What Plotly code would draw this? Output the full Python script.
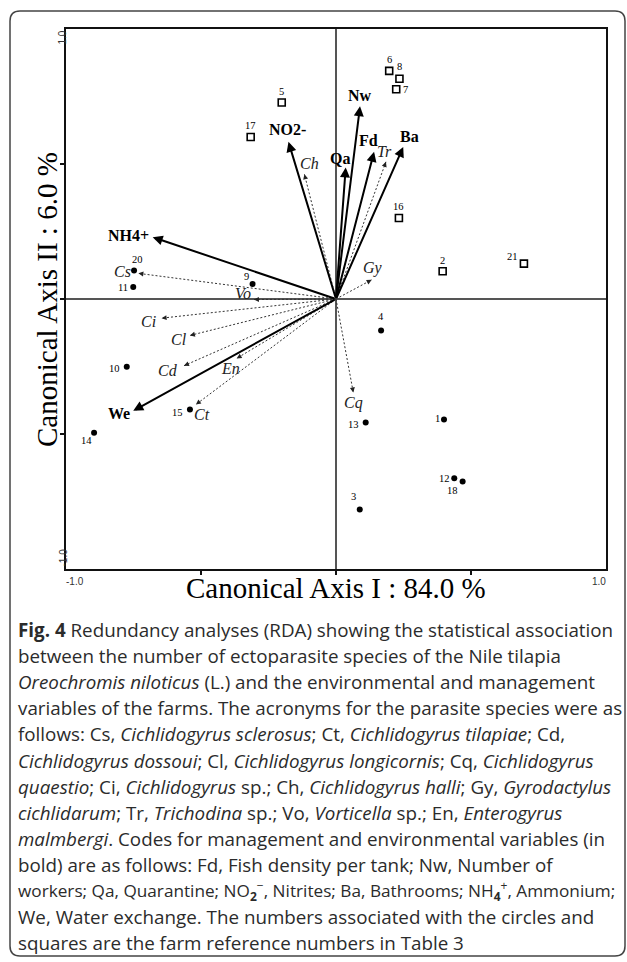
import math
import plotly.graph_objects as go

# ---------------- data ----------------
site_ids = ["1", "2", "3", "4", "5", "6", "7", "8", "9", "10", "11", "12", "13",
            "14", "15", "16", "17", "18", "20", "21"]
site_x = [0.400, 0.395, 0.088, 0.167, -0.201, 0.197, 0.223, 0.235, -0.309, -0.775,
          -0.751, 0.438, 0.110, -0.896, -0.541, 0.233, -0.316, 0.469, -0.748, 0.696]
site_y = [-0.446, 0.103, -0.780, -0.117, 0.728, 0.845, 0.777, 0.816, 0.056, -0.251,
          0.044, -0.664, -0.457, -0.495, -0.409, 0.300, 0.600, -0.676, 0.106, 0.131]
site_group = ["circle", "square", "circle", "circle", "square", "square", "square",
              "square", "circle", "circle", "circle", "circle", "circle", "circle",
              "circle", "square", "square", "circle", "circle", "square"]

env_names = ["NO2-", "NH4+", "Nw", "Qa", "Fd", "Ba", "We"]
env_x = [-0.176, -0.679, 0.089, 0.036, 0.141, 0.249, -0.751]
env_y = [0.582, 0.229, 0.714, 0.487, 0.545, 0.563, -0.414]

sp_names = ["Ch", "Tr", "Gy", "Cs", "Vo", "Ci", "Cl", "Cd", "En", "Ct", "Cq"]
sp_x = [-0.117, 0.185, 0.132, -0.732, -0.304, -0.646, -0.541, -0.563, -0.368, -0.519, 0.064]
sp_y = [0.462, 0.508, 0.071, 0.095, -0.002, -0.071, -0.135, -0.247, -0.220, -0.391, -0.346]

axis_range = [-1.0, 1.0]
tick_vals = [-0.5, 0.0, 0.5]
x_title = "Canonical Axis I : 84.0 %"
y_title = "Canonical Axis II : 6.0 %"

caption_lines = [
    "<b>Fig. 4</b> Redundancy analyses (RDA) showing the statistical association",
    "between the number of ectoparasite species of the Nile tilapia",
    "<i>Oreochromis niloticus</i> (L.) and the environmental and management",
    "variables of the farms. The acronyms for the parasite species were as",
    "follows: Cs, <i>Cichlidogyrus sclerosus</i>; Ct, <i>Cichlidogyrus tilapiae</i>; Cd,",
    "<i>Cichlidogyrus dossoui</i>; Cl, <i>Cichlidogyrus longicornis</i>; Cq, <i>Cichlidogyrus</i>",
    "<i>quaestio</i>; Ci, <i>Cichlidogyrus</i> sp.; Ch, <i>Cichlidogyrus halli</i>; Gy, <i>Gyrodactylus</i>",
    "<i>cichlidarum</i>; Tr, <i>Trichodina</i> sp.; Vo, <i>Vorticella</i> sp.; En, <i>Enterogyrus</i>",
    "<i>malmbergi</i>. Codes for management and environmental variables (in",
    "bold) are as follows: Fd, Fish density per tank; Nw, Number of",
    "workers; Qa, Quarantine; NO<sub><b>2</b></sub><sup>\u2212</sup>, Nitrites; Ba, Bathrooms; NH<sub><b>4</b></sub><sup>+</sup>, Ammonium;",
    "We, Water exchange. The numbers associated with the circles and",
    "squares are the farm reference numbers in Table 3",
]

# ---------------- styles / layout (pixels) ----------------
W, H = 627, 962
PL, PR, PT, PB = 66, 606, 29, 569
SERIF = "Liberation Serif"
SANS = "Liberation Sans"
CAP_FONT = "Open Sans"
CAP_SIZE = 18.8
CAP_SIZE_TIGHT = 17.2   # line with sub/superscripts (stacked in the original)
CAP_TOP, CAP_STEP = 630, 26.1

site_label_off = {"1": (-7, 1), "2": (0, 11), "3": (-6, 13), "4": (0, 14), "5": (0, 11),
                  "6": (0, 11), "7": (9, 0), "8": (0, 12), "9": (-6, 7), "10": (-12, -2),
                  "11": (-10, 0), "12": (-10, 0), "13": (-12, -2), "14": (-8, -8),
                  "15": (-12, -3), "16": (0, 11), "17": (0, 11), "18": (-10, -9),
                  "20": (3, 11), "21": (-11, 7)}
env_label_off = {"NO2-": (-1, 12), "NH4+": (-24, 2), "Nw": (0, 11), "Qa": (-6, 9),
                 "Fd": (-6, 11), "Ba": (6, 10), "We": (-14, -3)}
sp_label_off = {"Ch": (5, 11), "Tr": (-1, 10), "Gy": (1, 12), "Cs": (-16, 2), "Vo": (-11, 6),
                "Ci": (-13, -3), "Cl": (-11, -4), "Cd": (-16, -5), "En": (-6, -10),
                "Ct": (6, -10), "Cq": (0, -11)}

px_per_x = (PR - PL) / (axis_range[1] - axis_range[0])
px_per_y = (PB - PT) / (axis_range[1] - axis_range[0])

fig = go.Figure()

# dotted species vectors
lx, ly = [], []
for x, y in zip(sp_x, sp_y):
    lx += [0, x, None]
    ly += [0, y, None]
fig.add_trace(go.Scatter(x=lx, y=ly, mode="lines",
                         line=dict(color="#333333", width=1, dash="2px,2px"),
                         hoverinfo="skip"))

# sites
sq_x = [x for x, g in zip(site_x, site_group) if g == "square"]
sq_y = [y for y, g in zip(site_y, site_group) if g == "square"]
ci_x = [x for x, g in zip(site_x, site_group) if g == "circle"]
ci_y = [y for y, g in zip(site_y, site_group) if g == "circle"]
fig.add_trace(go.Scatter(x=sq_x, y=sq_y, mode="markers",
                         marker=dict(symbol="square-open", size=7, color="black",
                                     line=dict(width=1.6, color="black"))))
fig.add_trace(go.Scatter(x=ci_x, y=ci_y, mode="markers",
                         marker=dict(symbol="circle", size=6, color="black")))

ann = []
# solid environmental arrows
for n, x, y in zip(env_names, env_x, env_y):
    ann.append(dict(x=x, y=y, xref="x", yref="y", ax=0, ay=0, axref="x", ayref="y",
                    showarrow=True, arrowhead=2, arrowsize=1, arrowwidth=2,
                    arrowcolor="black", text=""))
    dx, dy = env_label_off[n]
    ann.append(dict(x=x, y=y, xref="x", yref="y", text="<b>%s</b>" % n, showarrow=False,
                    xshift=dx, yshift=dy,
                    font=dict(family=SERIF, size=16, color="black")))

# dotted species arrow heads + labels
for n, x, y in zip(sp_names, sp_x, sp_y):
    vx, vy = x * px_per_x, y * px_per_y
    L = math.hypot(vx, vy)
    ux, uy = vx / L, vy / L
    ann.append(dict(x=x, y=y, xref="x", yref="y", ax=-ux * 6, ay=uy * 6,
                    showarrow=True, arrowhead=2, arrowsize=1, arrowwidth=1,
                    arrowcolor="#222222", text=""))
    dx, dy = sp_label_off[n]
    ann.append(dict(x=x, y=y, xref="x", yref="y", text="<i>%s</i>" % n, showarrow=False,
                    xshift=dx, yshift=dy,
                    font=dict(family=SERIF, size=16, color="#222222")))

# site labels
for s, x, y in zip(site_ids, site_x, site_y):
    dx, dy = site_label_off[s]
    ann.append(dict(x=x, y=y, xref="x", yref="y", text=s, showarrow=False,
                    xshift=dx, yshift=dy,
                    font=dict(family=SERIF, size=10.5, color="black")))

# axis end labels
tick_font = dict(family=SANS, size=10, color="#333333")
ann.append(dict(x=axis_range[0], y=0, xref="x", yref="paper", text="-1.0",
                showarrow=False, font=tick_font, xshift=9, yshift=H - PB - 5,
                yanchor="top"))
ann.append(dict(x=axis_range[1], y=0, xref="x", yref="paper", text="1.0",
                showarrow=False, font=tick_font, xshift=-7, yshift=H - PB - 5,
                yanchor="top"))
ann.append(dict(x=0, y=axis_range[1], xref="paper", yref="y", text="1.0", textangle=-90,
                showarrow=False, font=tick_font, xshift=55, yshift=-9))
ann.append(dict(x=0, y=axis_range[0], xref="paper", yref="y", text="-1.0", textangle=-90,
                showarrow=False, font=tick_font, xshift=55, yshift=11))

# axis titles
ann.append(dict(x=0.5 * (PL + PR) / W, y=1 - 588 / H, xref="paper", yref="paper",
                text=x_title, showarrow=False, xanchor="center", yanchor="middle",
                font=dict(family=SERIF, size=29, color="black")))
ann.append(dict(x=47 / W, y=1 - 300 / H, xref="paper", yref="paper", textangle=-90,
                text=y_title, showarrow=False, xanchor="center", yanchor="middle",
                font=dict(family=SERIF, size=29, color="black")))

# caption
for i, line in enumerate(caption_lines):
    size = CAP_SIZE_TIGHT if "<sub>" in line else CAP_SIZE
    ann.append(dict(x=16 / W, y=1 - (CAP_TOP + i * CAP_STEP) / H, xref="paper", yref="paper",
                    xanchor="left", yanchor="middle", text=line, showarrow=False,
                    font=dict(family=CAP_FONT, size=size, color="#2b2b2b")))

# rounded border
x0, x1 = 10 / W, 625 / W
y0, y1 = 1 - 956 / H, 1 - 11 / H
rx, ry = 10 / W, 10 / H
path = (f"M{x0+rx},{y1} L{x1-rx},{y1} Q{x1},{y1} {x1},{y1-ry} L{x1},{y0+ry} "
        f"Q{x1},{y0} {x1-rx},{y0} L{x0+rx},{y0} Q{x0},{y0} {x0},{y0+ry} "
        f"L{x0},{y1-ry} Q{x0},{y1} {x0+rx},{y1} Z")

fig.update_layout(
    width=W, height=H, margin=dict(l=0, r=0, t=0, b=0),
    paper_bgcolor="white", plot_bgcolor="white", showlegend=False,
    annotations=ann,
    shapes=[dict(type="path", path=path, xref="paper", yref="paper",
                 line=dict(color="#444444", width=1.5))],
    xaxis=dict(domain=[PL / W, PR / W], range=axis_range, showgrid=False,
               showline=True, mirror=True, linecolor="#111111", linewidth=2,
               ticks="outside", ticklen=4, tickwidth=1.5, tickcolor="#111111",
               tickvals=tick_vals, showticklabels=False,
               zeroline=True, zerolinecolor="#555555", zerolinewidth=1.5),
    yaxis=dict(domain=[1 - PB / H, 1 - PT / H], range=axis_range, showgrid=False,
               showline=True, mirror=True, linecolor="#111111", linewidth=2,
               ticks="outside", ticklen=4, tickwidth=1.5, tickcolor="#111111",
               tickvals=tick_vals, showticklabels=False,
               zeroline=True, zerolinecolor="#555555", zerolinewidth=1.5),
)

fig.write_html("out.html", config={"displayModeBar": False},
               post_script="document.body.style.margin='0px';"
                           "document.body.style.overflow='hidden';")
